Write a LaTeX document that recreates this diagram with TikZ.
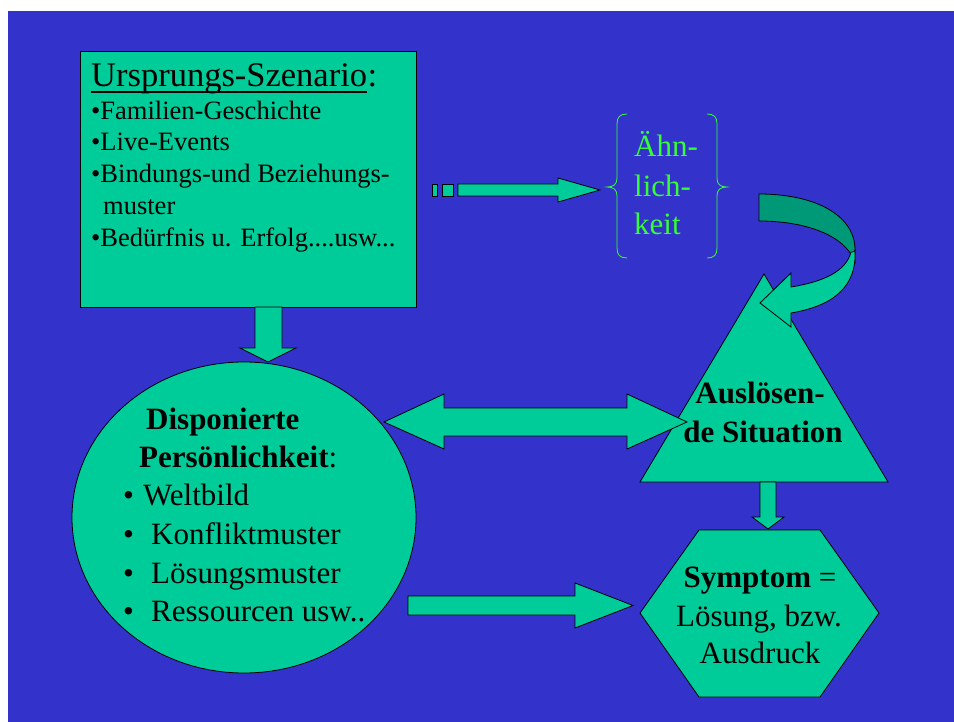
\documentclass[tikz,border=0pt]{standalone}
\usepackage{fontspec}
\setmainfont{Liberation Serif}
\usetikzlibrary{shapes.geometric,calc}
\definecolor{bgblue}{RGB}{51,51,204}
\definecolor{mygreen}{RGB}{0,204,153}
\definecolor{darkgreen}{RGB}{0,153,119}
\definecolor{txtgreen}{RGB}{51,255,51}
\begin{document}
\begin{tikzpicture}[x=1pt,y=-1pt,
  shp/.style={draw=black, fill=mygreen, line width=0.8pt, line join=miter},
  txt/.style={anchor=base west, inner sep=0pt, text=black},
  ctxt/.style={anchor=base, inner sep=0pt, text=black},
  fsmall/.style={font=\fontsize{26.5}{32}\selectfont},
  fhead/.style={font=\fontsize{34.5}{40}\selectfont},
  fbig/.style={font=\fontsize{31}{38}\selectfont},
  brace/.style={draw=txtgreen, line width=0.8pt}]
\useasboundingbox (0,0) rectangle (954,722);
\fill[white] (0,0) rectangle (954,722);
\fill[bgblue] (8,11) rectangle (954,722);

% top box
\node[shp, minimum width=336pt, minimum height=256pt, anchor=north west, inner sep=0pt] (box) at (80,51) {};

% arrow box -> circle
\draw[shp] (255,307) -- (282,307) -- (282,348) -- (296,348) -- (268,362) -- (240,348) -- (255,348) -- cycle;

% circle
\node[shp, ellipse, minimum width=344pt, minimum height=311pt, inner sep=0pt] (circ) at (244,517.5) {};

% triangle
\draw[shp] (640,482) coordinate (tl) -- (888,482) coordinate (tr) -- (764,274) coordinate (ta) -- cycle;

% double arrow circle <-> triangle
\draw[shp] (384,422) -- (444,394) -- (444,408) -- (627,408) -- (627,394) -- (687,422)
  -- (627,449) -- (627,436) -- (444,436) -- (444,449) -- cycle;

% curved arrow
\draw[draw=black, fill=darkgreen, line width=0.8pt]
  (759,194) .. controls (815,194) and (855,215) .. (855,250) -- (855,262)
  .. controls (845,235) and (805,221) .. (759,221) -- cycle;
\draw[shp]
  (851,252) .. controls (846,272) and (822,282) .. (791,287) -- (791,273) -- (760,303)
  -- (791,327) -- (791,313) .. controls (832,306) and (857,288) .. (855,250)
  .. controls (855,252) and (853,252) .. cycle;

% arrow triangle -> hexagon
\draw[shp] (760,482) -- (776,482) -- (776,517) -- (784,517) -- (768,529) -- (752,517) -- (760,517) -- cycle;

% hexagon
\draw[shp] (699,530) -- (820,530) -- (879,613) -- (820,697) -- (699,697) -- (640,613) -- cycle;

% bottom arrow circle -> hexagon
\draw[shp] (408,596) -- (575,596) -- (575,583) -- (633,605.5) -- (575,628) -- (575,615) -- (408,615) -- cycle;

% striped arrow box -> similarity
\draw[shp] (432,184) rectangle (437,196);
\draw[shp] (442,184) rectangle (453,196);
\draw[shp] (458,184) -- (558,184) -- (558,178) -- (600,190) -- (558,202) -- (558,196) -- (458,196) -- cycle;

% braces
\draw[brace] (627,114) .. controls (620,114) and (617,117) .. (617,124) -- (617,178)
  .. controls (617,184) and (614,187) .. (607,187) .. controls (614,187) and (617,190) .. (617,196)
  -- (617,248) .. controls (617,255) and (620,258) .. (627,258);
\draw[brace] (707,114) .. controls (714,114) and (717,117) .. (717,124) -- (717,178)
  .. controls (717,184) and (720,187) .. (727,187) .. controls (720,187) and (717,190) .. (717,196)
  -- (717,248) .. controls (717,255) and (714,258) .. (707,258);

% texts top box
\node[txt, fhead] (head) at (91,87) {Ursprungs-Szenario};
\node[txt, fhead] (colon) at (head.base east) {:};
\draw[black, line width=1.6pt] ($(head.base west)+(0,5)$) -- ($(head.base east)+(0,5)$);
\node[txt, fsmall] (l1) at (91,120) {•Familien-Geschichte};
\node[txt, fsmall] (l2) at (91,151) {•Live-Events};
\node[txt, fsmall] (l3) at (91,183) {•Bindungs-und Beziehungs-};
\node[txt, fsmall] (l4) at (103,215) {muster};
\node[txt, fsmall] (l5) at (91,247) {•Bedürfnis u. Erfolg....usw...};

% similarity
\node[txt, fbig, text=txtgreen] (s1) at (634,157) {Ähn-};
\node[txt, fbig, text=txtgreen] (s2) at (634,197) {lich-};
\node[txt, fbig, text=txtgreen] (s3) at (634,235) {keit};

% circle texts
\node[txt, fbig] (c1) at (146,429) {\textbf{Disponierte}};
\node[txt, fbig] (c2) at (139,467) {\textbf{Persönlichkeit}:};
\node[txt, fbig] (b1) at (123,505) {•};
\node[txt, fbig] (c3) at (143,505) {Weltbild};
\node[txt, fbig] (b2) at (123,544) {•};
\node[txt, fbig] (c4) at (151,544) {Konfliktmuster};
\node[txt, fbig] (b3) at (123,583) {•};
\node[txt, fbig] (c5) at (151,583) {Lösungsmuster};
\node[txt, fbig] (b4) at (123,621) {•};
\node[txt, fbig] (c6) at (151,621) {Ressourcen usw..};

% triangle texts
\node[ctxt, fbig] (t1) at (760,403) {\textbf{Auslösen-}};
\node[ctxt, fbig] (t2) at (763,442) {\textbf{de Situation}};

% hexagon texts
\node[ctxt, fbig] (x1) at (760,587) {\textbf{Symptom} =};
\node[ctxt, fbig] (x2) at (759,626) {Lösung, bzw.};
\node[ctxt, fbig] (x3) at (760,663) {Ausdruck};
\end{tikzpicture}
\end{document}
